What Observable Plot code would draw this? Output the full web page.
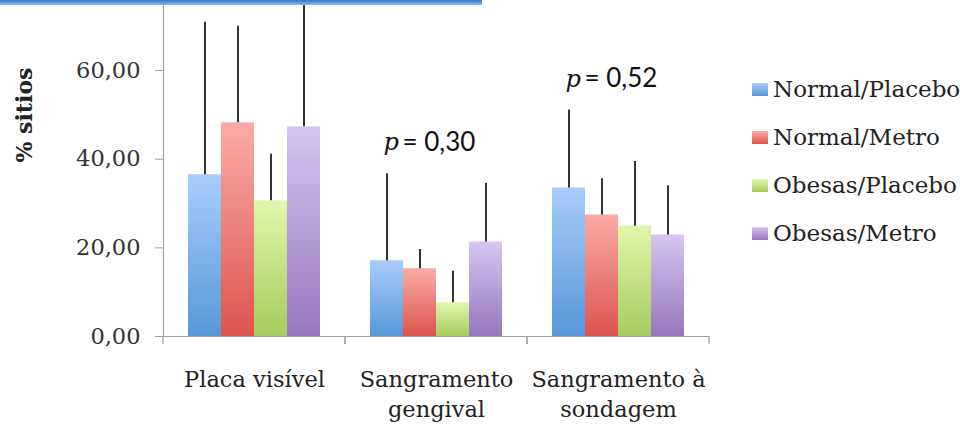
<!DOCTYPE html>
<html>
<head>
<meta charset="utf-8">
<script src="https://cdn.jsdelivr.net/npm/d3@7"></script>
<script src="https://cdn.jsdelivr.net/npm/@observablehq/plot@0.6"></script>
<style>
  html, body { margin: 0; padding: 0; background: #fff; }
  #wrap { position: relative; width: 960px; height: 430px; overflow: hidden; }
  #strip { position: absolute; left: 0; top: 0; width: 482px; height: 5px;
           background: linear-gradient(#3575c9, #8cbbec); }
  #ylabel { position: absolute; left: 24px; top: 115px; transform: translate(-50%, -50%) rotate(-90deg);
            font-family: "DejaVu Serif", serif; font-weight: bold; font-size: 22px; color: #222; white-space: nowrap; }
  #legend { position: absolute; left: 752px; top: 65px; font-family: "DejaVu Serif", serif; font-size: 23px; color: #222; }
  .row { display: flex; align-items: center; height: 48px; }
  .sw { width: 16px; height: 13px; margin-right: 5px; }
</style>
</head>
<body>
<div id="wrap">
  <div id="strip"></div>
  <div id="ylabel">% sitios</div>
  <div id="legend"></div>
</div>
<script>
// ---- data ----
const categories = ["Placa visível", "Sangramento gengival", "Sangramento à sondagem"];
const categoryLabels = ["Placa visível", "Sangramento\ngengival", "Sangramento à\nsondagem"];
const series = ["Normal/Placebo", "Normal/Metro", "Obesas/Placebo", "Obesas/Metro"];

const meanNormalPlacebo = [36.5, 17.1, 33.5];
const meanNormalMetro   = [48.2, 15.3, 27.4];
const meanObesasPlacebo = [30.6, 7.6, 24.9];
const meanObesasMetro   = [47.3, 21.3, 22.9];

const errNormalPlacebo = [34.4, 19.6, 17.6];
const errNormalMetro   = [21.8, 4.3, 8.2];
const errObesasPlacebo = [10.5, 7.1, 14.6];
const errObesasMetro   = [33.0, 13.3, 11.1];

const pCategories = ["Sangramento gengival", "Sangramento à sondagem"];
const pLabels = ["0,30", "0,52"];
const yTicks = [0, 20, 40, 60];

// ---- styles ----
const topColors = ["#a9cdfb", "#fbaba6", "#e0f7aa", "#d6c5f1"];
const bottomColors = ["#5797d8", "#db544d", "#a6cc5e", "#9577be"];

const means = [meanNormalPlacebo, meanNormalMetro, meanObesasPlacebo, meanObesasMetro];
const errs = [errNormalPlacebo, errNormalMetro, errObesasPlacebo, errObesasMetro];
const data = [];
categories.forEach((c, ci) => series.forEach((s, si) => {
  data.push({cat: c, series: s, si, value: means[si][ci], top: means[si][ci] + errs[si][ci]});
}));
const pData = pCategories.map((c, i) => ({
  cat: c, label: pLabels[i],
  y: d3.max(data.filter(d => d.cat === c), d => d.top) + 7
}));

const defs = () => {
  const d = d3.create("svg:defs");
  series.forEach((s, i) => {
    const g = d.append("linearGradient").attr("id", "grad" + i)
      .attr("x1", 0).attr("y1", 0).attr("x2", 0).attr("y2", 1);
    g.append("stop").attr("offset", "0%").attr("stop-color", topColors[i]);
    g.append("stop").attr("offset", "100%").attr("stop-color", bottomColors[i]);
  });
  return d.node();
};

// small tick marks below the baseline at the edges of each category band
const boundaryTicks = (index, scales, values, dimensions) => {
  const {width, height, marginLeft, marginRight, marginBottom} = dimensions;
  const y0 = height - marginBottom;
  const g = d3.create("svg:g").attr("stroke", "#a0a0a0").attr("stroke-width", 1.2);
  for (const x of [marginLeft, width - marginRight]) {
    g.append("line").attr("x1", x).attr("x2", x).attr("y1", y0).attr("y2", y0 + 8);
  }
  return g.node();
};

const barMarks = series.map((s, i) =>
  Plot.barY(data.filter(d => d.series === s), {fx: "cat", x: "series", y: "value", fill: `url(#grad${i})`, inset: 0})
);

const chart = Plot.plot({
  width: 960, height: 430,
  marginLeft: 163, marginRight: 251, marginTop: 0, marginBottom: 94,
  style: {fontFamily: "DejaVu Serif, serif", fontSize: "22px", color: "#222", background: "transparent"},
  fx: {domain: categories, padding: 0, label: null},
  x: {domain: series, paddingInner: 0, paddingOuter: 0.73, axis: null},
  y: {domain: [0, 75.8], label: null},
  marks: [
    defs,
    ...barMarks,
    Plot.ruleX(data, {fx: "cat", x: "series", y1: "value", y2: "top", stroke: "#333", strokeWidth: 2, clip: true}),
    Plot.ruleY([0], {stroke: "#a0a0a0", strokeWidth: 1.2}),
    boundaryTicks,
    Plot.frame({anchor: "left", facetAnchor: "left", stroke: "#a0a0a0", strokeWidth: 1.2}),
    Plot.axisY({ticks: yTicks, tickSize: 8, tickPadding: 15, stroke: "#a0a0a0", fill: "#333",
      fontSize: 22.5, label: null, tickFormat: d => d.toFixed(2).replace(".", ",")}),
    Plot.axisFx({anchor: "bottom", tickSize: 0, tickPadding: 30, lineHeight: 1.3, fontSize: 22.5,
      fill: "#222", label: null,
      tickFormat: d => categoryLabels[categories.indexOf(d)]}),
    Plot.text(pData, {fx: "cat", y: "y", text: () => "p", textAnchor: "start", dx: -53,
      fontFamily: "DejaVu Serif, serif", fontStyle: "italic", fontSize: 24, fill: "#111"}),
    Plot.text(pData, {fx: "cat", y: "y", text: d => "= " + d.label, textAnchor: "start", dx: -34,
      fontFamily: "Lato, sans-serif", fontSize: 26, fill: "#111"})
  ]
});
chart.style.position = "absolute";
chart.style.left = "0px";
chart.style.top = "0px";
const wrap = document.getElementById("wrap");
wrap.insertBefore(chart, wrap.firstChild);

const legend = document.getElementById("legend");
series.forEach((s, i) => {
  const row = document.createElement("div");
  row.className = "row";
  const sw = document.createElement("div");
  sw.className = "sw";
  sw.style.background = `linear-gradient(${topColors[i]}, ${bottomColors[i]})`;
  const t = document.createElement("span");
  t.textContent = s;
  row.appendChild(sw); row.appendChild(t);
  legend.appendChild(row);
});
</script>
</body>
</html>
